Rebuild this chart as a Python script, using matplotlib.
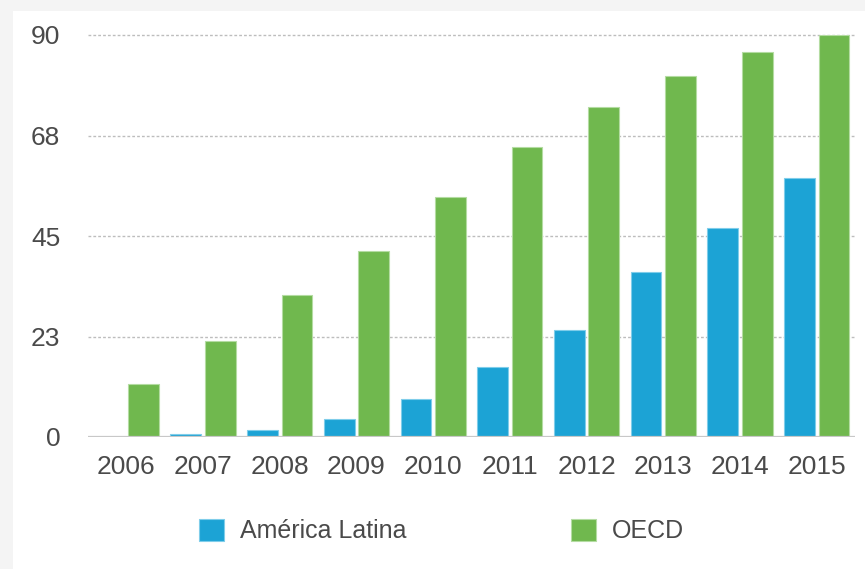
import matplotlib
matplotlib.use("Agg")
import matplotlib.pyplot as plt
import numpy as np
from matplotlib.patches import Rectangle

years = ["2006", "2007", "2008", "2009", "2010", "2011", "2012", "2013", "2014", "2015"]
latam = [0, 0.7, 1.6, 4.0, 8.6, 15.6, 24.0, 36.9, 46.8, 58.0]
oecd = [11.8, 21.6, 31.8, 41.6, 53.7, 64.9, 73.9, 80.9, 86.1, 89.9]
ytick_vals = [0, 22.5, 45, 67.5, 90]
ytick_labels = ["0", "23", "45", "68", "90"]
series_names = ["América Latina", "OECD"]

BLUE = "#1ca3d5"
GREEN = "#70b84e"
TXT = "#4a4a4a"

plt.rcParams['font.family'] = ['Liberation Sans', 'DejaVu Sans']

W, H = 865, 569
fig = plt.figure(figsize=(W / 100, H / 100), dpi=100)
fig.patch.set_facecolor("#f4f4f4")
fig.patches.append(Rectangle((13 / W, 0), 1 - 13 / W, 1 - 11 / H, transform=fig.transFigure,
                             facecolor="white", edgecolor="none", zorder=-10))

ax = fig.add_axes([88 / W, 132 / H, (855 - 88) / W, (534 - 132) / H])
ax.set_facecolor("none")

x = np.arange(len(years))
bw = 0.40
gap = 0.05
ax.bar(x - (bw + gap) / 2, latam, width=bw, color=BLUE, edgecolor="#7fcdea", linewidth=0.8, zorder=3,
       label=series_names[0])
ax.bar(x + (bw + gap) / 2, oecd, width=bw, color=GREEN, edgecolor="#b4dca2", linewidth=0.8, zorder=3,
       label=series_names[1])

ax.set_xlim(-0.5, 9.5)
ax.set_ylim(0, 90)
ax.set_xticks(x)
ax.set_xticklabels(years)
ax.set_yticks(ytick_vals)
ax.set_yticklabels(ytick_labels)
ax.tick_params(axis="both", length=0, labelsize=19, colors=TXT)
ax.tick_params(axis="y", pad=20)
ax.tick_params(axis="x", pad=13)

for v in ytick_vals[1:]:
    ax.axhline(v, color="#bdbdbd", linewidth=1, linestyle=(0, (2, 1.5)), zorder=1, clip_on=False)
ax.axhline(0, color="#c8c8c8", linewidth=1.6, zorder=4)

for s in ax.spines.values():
    s.set_visible(False)

leg = fig.legend(loc="center", bbox_to_anchor=(441.5 / W, 1 - 531 / H), ncol=2, frameon=False,
                 fontsize=18, handlelength=1.0, handleheight=1.0, handletextpad=0.64,
                 columnspacing=6.6, labelcolor=TXT)

fig.savefig("out.png", dpi=100, facecolor=fig.get_facecolor())
